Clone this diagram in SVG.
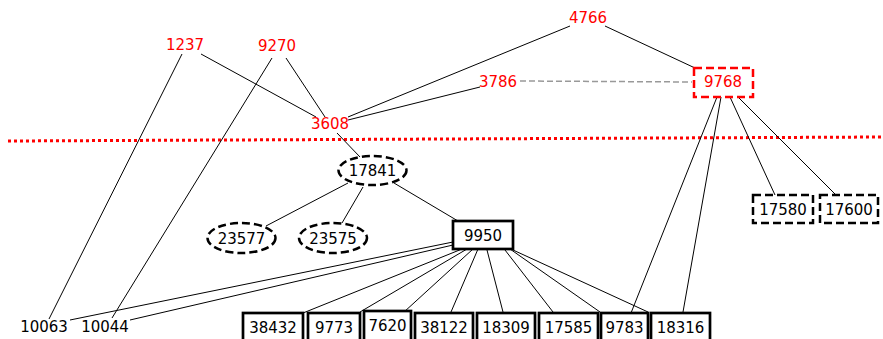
<svg xmlns="http://www.w3.org/2000/svg" width="883" height="339" viewBox="0 0 883 339">
<style>
text{font-family:"DejaVu Sans","Liberation Sans",sans-serif;font-size:15px;text-anchor:middle}
.r{fill:#ff0000}
.k{fill:#000}
.e{stroke:#000;stroke-width:1;fill:none}
.dash{fill:#fff;stroke:#000;stroke-width:2.5;stroke-dasharray:8,4}
.box{fill:#fff;stroke:#000;stroke-width:2.7}
</style>
<rect width="883" height="339" fill="#fff"/>
<line x1="8" y1="141" x2="883" y2="137" stroke="#ff0000" stroke-width="3" stroke-dasharray="3,3"/>
<g id="connectors">
<line class="e" x1="182" y1="54" x2="49" y2="319"/>
<line class="e" x1="201" y1="54" x2="316" y2="117"/>
<line class="e" x1="272" y1="58" x2="112" y2="318"/>
<line class="e" x1="286" y1="58" x2="325" y2="117"/>
<line class="e" x1="348" y1="117" x2="570" y2="26"/>
<line class="e" x1="348" y1="120" x2="480" y2="87"/>
<line class="e" x1="605" y1="26" x2="695" y2="68"/>
<line x1="520" y1="81" x2="692" y2="82" stroke="#999" stroke-width="1.5" stroke-dasharray="6,3"/>
<line class="e" x1="337" y1="133" x2="360" y2="157"/>
<line class="e" x1="717" y1="97" x2="631" y2="313"/>
<line class="e" x1="721" y1="97" x2="683" y2="312"/>
<line class="e" x1="730" y1="97" x2="775" y2="195"/>
<line class="e" x1="738" y1="97" x2="836" y2="195"/>
<line class="e" x1="348" y1="183" x2="266" y2="226"/>
<line class="e" x1="363" y1="187" x2="342" y2="223"/>
<line class="e" x1="394" y1="183" x2="458" y2="221"/>
<line class="e" x1="453" y1="242" x2="70" y2="320"/>
<line class="e" x1="453" y1="245" x2="130" y2="320"/>
<line class="e" x1="462" y1="249" x2="303" y2="313"/>
<line class="e" x1="467" y1="249" x2="360" y2="312"/>
<line class="e" x1="473" y1="249" x2="404" y2="312"/>
<line class="e" x1="478" y1="249" x2="451" y2="312"/>
<line class="e" x1="487" y1="250" x2="503" y2="312"/>
<line class="e" x1="505" y1="250" x2="553" y2="312"/>
<line class="e" x1="510" y1="249" x2="600" y2="312"/>
<line class="e" x1="513" y1="250" x2="648" y2="312"/>
</g>
<g id="n4766"><text class="r" x="588" y="23">4766</text></g>
<g id="n1237"><text class="r" x="185" y="50">1237</text></g>
<g id="n9270"><text class="r" x="277" y="51">9270</text></g>
<g id="n3608"><text class="r" x="330" y="129">3608</text></g>
<g id="n3786"><text class="r" x="498" y="87">3786</text></g>
<g id="n9768"><rect x="694" y="68" width="59" height="29" fill="#fff" stroke="#ff0000" stroke-width="2.5" stroke-dasharray="8,4"/><text class="r" x="723" y="87">9768</text></g>
<g id="n17841"><ellipse class="dash" cx="372.5" cy="170.5" rx="34" ry="14.5"/><text class="k" x="372.5" y="176">17841</text></g>
<g id="n23577"><ellipse class="dash" cx="241.5" cy="238" rx="34" ry="15"/><text class="k" x="241.5" y="243.5">23577</text></g>
<g id="n23575"><ellipse class="dash" cx="333" cy="238" rx="34" ry="15"/><text class="k" x="333" y="243.5">23575</text></g>
<g id="n9950"><rect class="box" x="453" y="221" width="60" height="28"/><text class="k" x="483" y="240.5">9950</text></g>
<g id="n17580"><rect class="dash" x="753" y="195" width="60" height="28"/><text class="k" x="783" y="214.5">17580</text></g>
<g id="n17600"><rect class="dash" x="820" y="195" width="58" height="28"/><text class="k" x="849" y="214.5">17600</text></g>
<g id="n10063"><text class="k" x="44" y="332">10063</text></g>
<g id="n10044"><text class="k" x="105" y="332">10044</text></g>
<g id="n38432"><rect class="box" x="243" y="313" width="60" height="32"/><text class="k" x="273" y="333">38432</text></g>
<g id="n9773"><rect class="box" x="308" y="313" width="52" height="32"/><text class="k" x="334" y="333">9773</text></g>
<g id="n7620"><rect class="box" x="364" y="311" width="47" height="34"/><text class="k" x="387.5" y="331">7620</text></g>
<g id="n38122"><rect class="box" x="415" y="313" width="58" height="32"/><text class="k" x="444" y="333">38122</text></g>
<g id="n18309"><rect class="box" x="477" y="313" width="58" height="32"/><text class="k" x="506" y="333">18309</text></g>
<g id="n17585"><rect class="box" x="539" y="313" width="59" height="32"/><text class="k" x="568.5" y="333">17585</text></g>
<g id="n9783"><rect class="box" x="601" y="313" width="47" height="32"/><text class="k" x="624.5" y="333">9783</text></g>
<g id="n18316"><rect class="box" x="651" y="313" width="59" height="32"/><text class="k" x="680.5" y="333">18316</text></g>
</svg>
